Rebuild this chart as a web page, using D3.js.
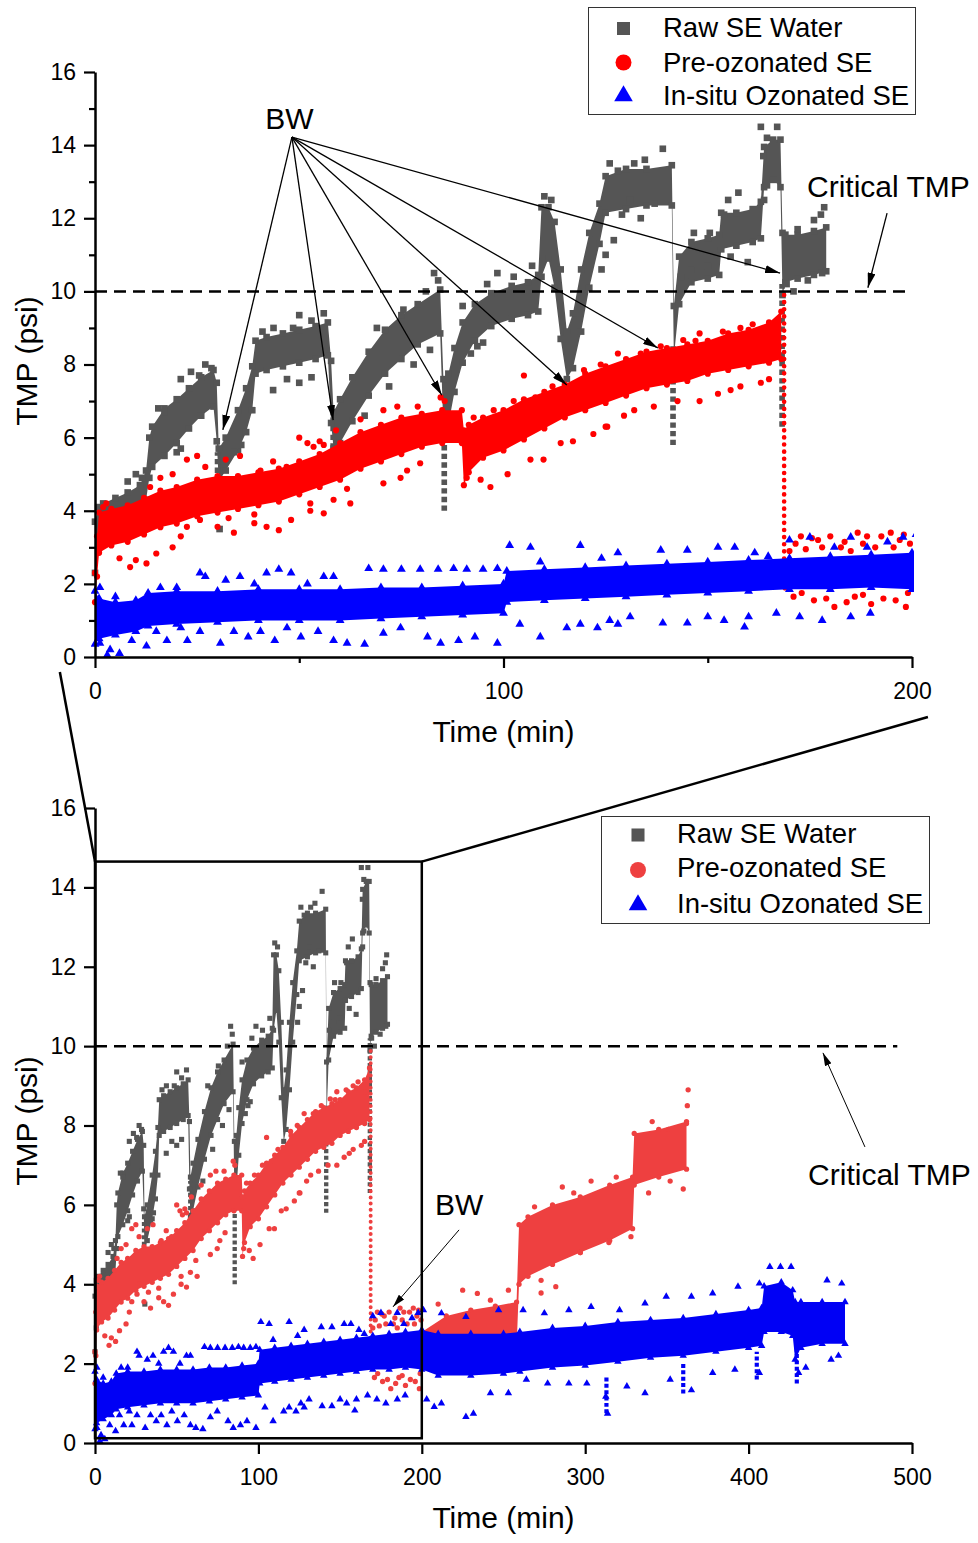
<!DOCTYPE html>
<html>
<head>
<meta charset="utf-8">
<script src="https://cdn.jsdelivr.net/npm/d3@7"></script>
<style>
  body { margin: 0; background: #fff; }
  svg text { font-family: "Liberation Sans", Arial, sans-serif; fill: #000; }
</style>
</head>
<body>
<div id="chart"></div>
<script>
// ---- data: TMP (psi) vs time (min) ----
// dense cloud of each run as [time, low, high] of its core band
const rawBand = [
  [0,2.3,3.7],[0.8,2.9,4.1],[2,3.4,4.2],[5,3.6,4.35],[8,3.7,4.5],[11,3.9,4.7],[12.5,4.3,5.1],
  [13.3,4.9,6.0],[14,5.2,6.3],[17,5.5,6.8],[20,5.85,7.05],[23,6.25,7.35],[26,6.6,7.65],[29,6.85,7.85],
  [29.8,5.9,7.5],[30.3,4.8,5.7],[32,5.1,6.0],[35,5.65,6.75],[37,6.15,7.35],[38.5,6.75,7.95],[39.3,7.75,8.65],
  [42,7.85,8.75],[46,7.95,8.85],[50,8.05,8.95],[54,8.15,9.05],[57,8.25,9.15],[57.8,6.4,8.1],[58.4,5.7,6.7],
  [60,5.85,7.05],[63,6.45,7.65],[67,7.15,8.35],[71,7.75,8.95],[75,8.15,9.35],[79,8.55,9.65],[84.5,8.85,10.05],
  [85.3,6.2,7.6],[86.5,6.35,7.75],[88,7.25,8.45],[90,8.05,9.15],[93,8.65,9.65],[97,9.05,9.95],[102,9.25,10.15],
  [106,9.35,10.25],[108.5,9.45,10.45],[109.3,10.4,12.3],[111,10.9,12.3],[112.5,10.1,11.9],[114,8.7,10.6],
  [115.5,7.6,8.9],[117,7.9,9.4],[119,8.9,10.6],[121,10.1,11.6],[123.5,11.3,12.4],[125,12.15,13.15],
  [130,12.25,13.35],[135,12.35,13.35],[141.2,12.35,13.45],[141.7,8.2,9.6],[143,9.65,10.95],[146,10.25,11.35],
  [150,10.35,11.45],[152.8,10.45,11.55],[153.3,11.15,12.15],[157,11.25,12.15],[161,11.35,12.25],[163,11.45,12.45],
  [163.8,12.85,13.95],[166,13.05,14.15],[167.8,12.85,14.15],[168.3,9.9,11.6],[169,10.25,11.55],[172,10.35,11.55],
  [176,10.45,11.65],[179,10.55,11.75]
];
const preBand = [
  [0,1.5,2.3],[0.5,2.2,3.3],[1,2.85,3.95],[4,3.05,4.05],[8,3.15,4.15],[12,3.35,4.35],[16,3.55,4.55],[20,3.65,4.65],
  [25,3.85,4.85],[30,3.95,4.95],[35,4.05,4.95],[40,4.15,5.05],[45,4.25,5.15],[50,4.45,5.35],[55,4.65,5.55],[60,4.85,5.85],
  [65,5.15,6.15],[70,5.35,6.35],[75,5.55,6.55],[80,5.75,6.65],[85,5.85,6.75],[89.8,5.85,6.75],[90.3,4.7,6.2],
  [91.5,5.05,6.35],[95,5.45,6.55],[100,5.65,6.75],[105,5.95,7.05],[110,6.25,7.25],[115,6.55,7.45],[120,6.75,7.75],
  [125,6.95,7.95],[130,7.15,8.15],[135,7.35,8.35],[140,7.45,8.45],[145,7.55,8.55],[150,7.75,8.65],[155,7.85,8.85],
  [160,7.95,8.95],[165,8.05,9.15],[168,8.15,9.45],[168.5,null,null],
  [169,1.9,2.6],[180,1.9,2.65],[190,2.0,2.7],[200,2.0,2.8],[215,2.2,3.2],[230,2.3,3.35],[245,2.3,3.45],
  [258,2.4,3.55],[259.5,4.0,5.5],[265,4.2,5.7],[280,4.5,6.0],[297,4.8,6.2],[315,5.1,6.5],[329,5.4,6.7],
  [330,6.5,7.8],[345,6.7,7.9],[362,6.9,8.1]
];
const insituBand = [
  [0,0.35,1.8],[1,0.5,1.6],[5,0.6,1.5],[10,0.7,1.55],[13,0.85,1.75],[20,0.9,1.8],[30,0.95,1.8],
  [40,1.0,1.85],[50,1.0,1.85],[60,1.0,1.85],[70,1.05,1.9],[80,1.1,1.9],[90,1.15,1.95],[100,1.2,2.0],
  [100.8,1.5,2.35],[110,1.55,2.4],[120,1.6,2.45],[130,1.65,2.5],[140,1.7,2.55],[150,1.75,2.6],
  [160,1.8,2.65],[170,1.85,2.7],[180,1.85,2.75],[190,1.9,2.8],[200,1.85,2.85],[210,1.7,2.75],
  [230,1.7,2.75],[250,1.75,2.75],[260,1.8,2.8],[280,1.9,2.9],[300,1.95,2.95],[320,2.05,3.05],
  [340,2.15,3.1],[360,2.2,3.15],[380,2.3,3.25],[400,2.4,3.35],[408,2.45,3.4],[409.5,2.8,3.95],
  [420,2.8,4.05],[427,2.7,3.85],[428.5,2.1,3.55],[432,2.4,3.55],[445,2.5,3.55],[459,2.5,3.55]
];

// sudden drops (backwash) seen as strings of markers: [time, low, high]
const rawDrops = [[30.0,4.8,5.6],[58.3,5.7,6.6],[85.5,4.0,6.5],[141.5,5.8,8.5],[168.2,6.3,10.2]];
const preDrops = [[168.7,2.5,10.0]];
const insituDrops = [[313,0.75,1.7],[360,1.25,2.0],[405,1.6,2.3],[429.5,1.5,2.6]];

// scattered points outside the core bands: [time, TMP]
const rawOut = [
  [8,4.8],[10,5.0],[11.5,4.9],[15.5,6.8],[17,6.7],[21,7.6],[23.5,7.8],[25.5,7.7],[27,8.0],[28.5,7.9],
  [20,5.6],[21,5.7],[30.5,3.5],[34,5.6],[35.8,5.8],[41,8.9],[43.7,9.0],[48.5,9.0],[50,9.35],[53,9.2],
  [56,9.4],[47,7.6],[50,7.5],[53,7.65],[43.6,7.3],[69,9.0],[75.5,9.5],[66,6.6],[72,7.4],[78,8.0],
  [82,8.4],[81,10.0],[83,10.5],[84,10.3],[90,9.6],[96,10.2],[98.5,10.5],[102.5,10.4],[107,10.7],
  [92,8.3],[95,8.6],[93.6,8.5],[110,12.6],[111.7,12.5],[125,11.0],[127,11.4],[124,10.6],[126,13.5],
  [128,13.3],[132,13.5],[134.6,13.6],[139,13.9],[131,12.5],[133.6,12.0],[129,12.1],[137,12.4],
  [146,10.6],[150,10.7],[143.4,10.4],[146.6,11.6],[150.5,11.6],[155,12.5],[157.5,12.7],[154,12.1],
  [155.6,10.95],[159.8,10.8],[163,14.5],[167,14.5],[164.5,14.2],[163.6,13.7],[163.8,12.5],[164.5,12.9],
  [176,11.95],[177.7,12.1],[178.5,12.3],[172,11.7],[174.5,10.3],[171,10.0],[178,10.5],[169.3,10.2]
];
const preOut = [
  [6,2.7],[8.6,2.46],[10,2.65],[12.6,2.56],[15,2.83],[19,3.0],[21,3.3],[22.5,3.56],[25.7,3.75],[30,3.56],
  [34,3.4],[39,3.66],[42,3.56],[45,3.47],[48,3.75],[52.7,4.0],[56,3.93],[39,3.9],[32.7,3.8],[27.2,4.0],
  [2,4.1],[2.8,4.2],[13.5,4.65],[16,4.9],[19,5.0],[22.5,5.4],[25,5.5],[27,5.2],[32,5.4],[35.5,5.5],
  [40.5,5.1],[43.6,5.35],[46.9,5.2],[50,6.0],[53.5,5.75],[56,5.8],[65,6.5],[70.6,6.75],[74,6.85],
  [79,6.85],[84.6,7.1],[85.6,7.0],[52,5.85],[55,5.9],[59,6.2],[52.7,4.2],[58.4,4.3],[62.5,4.2],
  [61.7,4.6],[70.6,4.75],[76.4,5.1],[79.6,5.3],[74.8,4.9],[91,4.9],[94.4,4.85],[96.8,4.65],[101,5.0],
  [106.6,5.4],[109.8,5.4],[114,5.85],[117,5.9],[122,6.1],[125,6.3],[92.7,6.55],[97.6,6.75],[102.5,7.0],
  [105,7.7],[107.8,7.1],[112,7.4],[119.7,7.85],[123.8,8.0],[128,8.3],[133.6,8.3],[138.5,8.5],[144,8.67],
  [148,8.85],[153.7,8.9],[158,9.0],[161,9.1],[165,8.85],[147,8.65],[125.4,6.3],[129.5,6.6],[132,6.75],
  [136.8,6.85],[142.6,7.0],[148,7.0],[152.5,7.2],[158,7.4],[163,7.5],[165,7.6],[155.6,7.3],
  [170,2.9],[171.5,3.1],[172.8,3.3],[174,2.95],[175.5,3.25],[177,3.2],[178,3.0],[180,3.3],[182.6,3.0],
  [183.5,3.15],[185,2.9],[186.7,3.4],[188,3.1],[189,3.3],[191,3.0],[192.5,3.3],[194.8,3.4],[195.5,3.0],
  [197,3.2],[198,3.35],[199.5,3.1],[171,1.65],[173,1.75],[176,1.55],[179,1.6],[181,1.37],[184,1.5],
  [186,1.65],[188,1.7],[190,1.45],[193,1.6],[196,1.55],[198.5,1.37],[199,1.75],
  [210,3.5],[225,3.85],[234,3.77],[242,3.6],[253,3.85],[269,5.95],[286,6.45],[293,6.3],[303.6,6.6],
  [319,6.7],[273,3.78],[282,3.94],[273,4.1],[297,4.8],[314.5,5.05],[328,5.2],[341,8.1],[351,7.9],
  [362,8.05],[363,8.9],[362.5,8.5],[338.8,6.3],[352,6.6],[360,6.4]
];
const insituOut = [
  [1.2,1.9],[5,1.65],[16,1.9],[20,1.9],[25.7,2.3],[27,2.2],[32,2.1],[35.5,2.2],[39,2.0],[42,2.3],[45,2.4],
  [48,2.3],[52,2.0],[56,2.2],[1.2,0.38],[3.7,0.2],[6,0.1],[3,0.05],[9,0.45],[12.6,0.3],[15,0.7],[17.6,0.45],
  [21,0.8],[22.6,0.45],[25.7,0.7],[30.7,0.38],[34,0.7],[37.5,0.55],[40.5,0.7],[44,0.45],[47,0.8],[50.4,0.55],
  [54.6,0.7],[58.4,2.2],[67,2.42],[70.6,2.4],[75,2.4],[79.6,2.4],[84,2.4],[87.8,2.42],[91,2.4],[95,2.4],
  [98.5,2.42],[101.5,3.05],[106.6,3.0],[109,2.6],[118.8,3.05],[124,2.7],[128,2.85],[58.4,0.45],[61.7,0.38],
  [66,0.35],[70.6,0.65],[74.8,0.8],[81.4,0.55],[84.6,0.38],[89,0.45],[93,0.55],[98.5,0.38],[109,0.55],
  [104,0.9],[115.5,0.8],[118.8,0.9],[123,0.8],[128,0.9],[138.5,2.92],[145,2.92],[152.5,3.0],[156.6,3.0],
  [161.5,2.85],[164.8,2.75],[170,3.2],[175,3.28],[181,3.0],[185,3.28],[189,3.0],[194,3.15],[197.8,3.28],
  [126,1.0],[131,1.1],[139,0.93],[145,0.93],[150,1.1],[154,1.0],[159,0.82],[160,1.1],[166.8,1.2],
  [172.5,1.1],[178,1.0],[185,1.1],[189.8,1.2],[201,3.35],[212,3.27],[227,3.18],[247,3.35],[262,3.35],
  [275,3.27],[290,3.35],[303.6,3.43],[321,3.35],[336.6,3.52],[349.6,3.69],[365,3.69],[378,3.77],
  [393.5,3.94],[406.6,4.02],[413,4.44],[419.5,4.44],[426,4.44],[448,4.1],[457,4.02],[203,1.1],[207.6,0.91],
  [212,1.0],[227,0.66],[231.6,0.74],[242,1.26],[253,1.26],[264,1.6],[277,1.5],[290,1.5],[301,1.5],
  [312.6,1.17],[313.7,0.74],[325.5,1.43],[336.6,1.26],[352,1.6],[365,1.33],[378,1.77],[391.6,1.85],
  [406.6,1.77],[430.6,1.77],[435,1.9],[450.5,2.1],[455,2.2]
];

const seriesNames = ["Raw SE Water", "Pre-ozonated SE", "In-situ Ozonated SE"];
const criticalTMP = 10;
const yTicks = [0, 2, 4, 6, 8, 10, 12, 14, 16];
const yMinorTop = [1, 3, 5, 7, 9, 11, 13, 15];
const xTicksTop = [0, 100, 200];
const xMinorTop = [50, 150];
const xTicksBottom = [0, 100, 200, 300, 400, 500];
const zoomBox = [0, 200, 0.12, 14.65];   // t0, t1, v0, v1 of the inset frame

const FONT = '"Liberation Sans", Arial, sans-serif';

const svg = d3.select("#chart").append("svg")
    .attr("width", 978).attr("height", 1543);
const defs = svg.append("defs");

function addArrow(id, len, wid) {
    defs.append("marker")
        .attr("id", id)
        .attr("markerUnits", "userSpaceOnUse")
        .attr("viewBox", `0 0 ${len} ${wid}`)
        .attr("refX", len).attr("refY", wid / 2)
        .attr("markerWidth", len).attr("markerHeight", wid)
        .attr("orient", "auto")
        .append("path")
        .attr("d", `M0,0L${len},${wid / 2}L0,${wid}Z`)
        .attr("fill", "#000");
}
addArrow("arrowBig", 15, 8);
addArrow("arrowSmall", 13, 7);

const panels = [
    {
        name: "top", tMax: 200, xTicks: xTicksTop, xMinor: xMinorTop, yMinor: yMinorTop,
        left: 95, right: 912, bottom: 657, top: 72, dashEnd: 200,
        colors: ["#555555", "#ff0000", "#0000ff"], sizes: [44, 30, 34],
        legend: { x: 588, y: 7, w: 327, h: 107, symX: 623.5, textX: 663, rows: [28.5, 62.5, 96], base: [37, 72, 105] },
        titleY: 742, labelY: 361
    },
    {
        name: "bottom", tMax: 500, xTicks: xTicksBottom, xMinor: [], yMinor: [],
        left: 95, right: 912, bottom: 1443, top: 808, dashEnd: 491,
        colors: ["#555555", "#ee4040", "#0000f5"], sizes: [26, 22, 24],
        legend: { x: 601, y: 816, w: 328, h: 107, symX: 638, textX: 677, rows: [835, 870, 905], base: [843, 877, 913] },
        titleY: 1528, labelY: 1121
    }
];

const symbols = [d3.symbolSquare, d3.symbolCircle, d3.symbolTriangle];
const bands = [rawBand, preBand, insituBand];
const drops = [rawDrops, preDrops, insituDrops];
const outs = [rawOut, preOut, insituOut];

function drawPanel(p) {
    const x = d3.scaleLinear().domain([0, p.tMax]).range([p.left, p.right]);
    const y = d3.scaleLinear().domain([0, 16]).range([p.bottom, p.top]);
    p.x = x; p.y = y;

    const clipId = "clip-" + p.name;
    defs.append("clipPath").attr("id", clipId).append("rect")
        .attr("x", p.left - 4).attr("y", p.top - 12)
        .attr("width", p.right - p.left + 6).attr("height", p.bottom - p.top + 12);
    const plot = svg.append("g").attr("clip-path", `url(#${clipId})`);

    bands.forEach((band, i) => {
        const col = p.colors[i];
        const side = Math.sqrt(p.sizes[i]);
        const area = d3.area()
            .defined(d => d[1] != null)
            .x(d => x(d[0]))
            .y0(d => y(d[1]))
            .y1(d => y(d[2]));
        plot.append("path").attr("d", area(band)).attr("fill", col);

        plot.selectAll(null).data(drops[i]).join("line")
            .attr("x1", d => x(d[0])).attr("x2", d => x(d[0]))
            .attr("y1", d => y(d[1])).attr("y2", d => y(d[2]))
            .attr("stroke", col)
            .attr("stroke-width", side * 0.85)
            .attr("stroke-dasharray", i === 1 ? `0,${side * 1.3}` : `${side * 0.8},${side * 0.5}`)
            .attr("stroke-linecap", i === 1 ? "round" : "butt");

        const pts = band.filter(d => d[1] != null)
            .flatMap(d => [[d[0], d[1]], [d[0], d[2]]])
            .concat(outs[i]);
        const sym = d3.symbol().type(symbols[i]).size(p.sizes[i]);
        plot.selectAll(null).data(pts).join("path")
            .attr("transform", d => `translate(${x(d[0])},${y(d[1])})`)
            .attr("d", sym)
            .attr("fill", col);
    });

    // critical TMP line
    svg.append("line")
        .attr("x1", x(0)).attr("x2", x(p.dashEnd))
        .attr("y1", y(criticalTMP)).attr("y2", y(criticalTMP))
        .attr("stroke", "#000").attr("stroke-width", 2.5)
        .attr("stroke-dasharray", "12,7");

    // axes
    const xAxis = svg.append("g")
        .attr("transform", `translate(0,${p.bottom})`)
        .call(d3.axisBottom(x).tickValues(p.xTicks).tickSize(11).tickSizeOuter(0).tickPadding(14));
    const yAxis = svg.append("g")
        .attr("transform", `translate(${p.left},0)`)
        .call(d3.axisLeft(y).tickValues(yTicks).tickSize(11).tickSizeOuter(0).tickPadding(8));
    [xAxis, yAxis].forEach(g => {
        g.attr("font-size", 23).attr("font-family", FONT);
        g.select(".domain").attr("stroke-width", 2.5);
        g.selectAll(".tick line").attr("stroke-width", 2.2);
        g.selectAll(".tick text").attr("fill", "#000");
    });
    xAxis.selectAll(".tick text").attr("dy", "0.72em");
    if (p.xMinor.length) {
        svg.append("g").attr("transform", `translate(0,${p.bottom})`)
            .call(d3.axisBottom(x).tickValues(p.xMinor).tickSize(6).tickSizeOuter(0).tickFormat(""))
            .call(g => g.select(".domain").remove())
            .selectAll(".tick line").attr("stroke-width", 2.2);
    }
    if (p.yMinor.length) {
        svg.append("g").attr("transform", `translate(${p.left},0)`)
            .call(d3.axisLeft(y).tickValues(p.yMinor).tickSize(6).tickSizeOuter(0).tickFormat(""))
            .call(g => g.select(".domain").remove())
            .selectAll(".tick line").attr("stroke-width", 2.2);
    }

    svg.append("text")
        .attr("x", (p.left + p.right) / 2).attr("y", p.titleY)
        .attr("text-anchor", "middle").attr("font-size", 30)
        .text("Time (min)");
    svg.append("text")
        .attr("transform", `translate(37,${p.labelY}) rotate(-90)`)
        .attr("text-anchor", "middle").attr("font-size", 30)
        .text("TMP (psi)");

    // legend
    const L = p.legend;
    svg.append("rect")
        .attr("x", L.x + 0.5).attr("y", L.y + 0.5).attr("width", L.w).attr("height", L.h)
        .attr("fill", "#fff").attr("stroke", "#333").attr("stroke-width", 1);
    const legendSizes = [170, 200, 150];
    seriesNames.forEach((name, i) => {
        svg.append("path")
            .attr("transform", `translate(${L.symX},${L.rows[i]})`)
            .attr("d", d3.symbol().type(symbols[i]).size(legendSizes[i]))
            .attr("fill", p.colors[i]);
        svg.append("text")
            .attr("x", L.textX).attr("y", L.base[i])
            .attr("font-size", 27.5)
            .text(name);
    });
}

panels.forEach(drawPanel);
const T = panels[0], B = panels[1];

// ---- annotations ----
function arrow(p, from, to, marker, width) {
    svg.append("line")
        .attr("x1", p.x(from[0])).attr("y1", p.y(from[1]))
        .attr("x2", p.x(to[0])).attr("y2", p.y(to[1]))
        .attr("stroke", "#000").attr("stroke-width", width)
        .attr("marker-end", `url(#${marker})`);
}
function label(p, at, txt, anchor) {
    svg.append("text")
        .attr("x", p.x(at[0])).attr("y", p.y(at[1]))
        .attr("text-anchor", anchor).attr("font-size", 30)
        .text(txt);
}

// top: backwash points and critical TMP
const bwOrigin = [48.2, 14.22];
const bwTargets = [[31.3, 6.21], [58.3, 6.48], [84.9, 7.16], [115.5, 7.44], [137.8, 8.45], [167.7, 10.5]];
label(T, [47.6, 14.45], "BW", "middle");
bwTargets.forEach(t => arrow(T, bwOrigin, t, "arrowBig", 1.3));
label(T, [174.3, 12.58], "Critical TMP", "start");
arrow(T, [193.9, 12.14], [189.2, 10.1], "arrowBig", 1.3);

// bottom
label(B, [222.8, 5.74], "BW", "middle");
arrow(B, [222.8, 5.37], [182.4, 3.43], "arrowSmall", 1);
label(B, [436.4, 6.5], "Critical TMP", "start");
arrow(B, [471.2, 7.46], [445.5, 9.83], "arrowSmall", 1);

// inset frame in the lower chart, and the lines tying it to the upper chart
svg.append("rect")
    .attr("x", B.x(zoomBox[0])).attr("y", B.y(zoomBox[3]))
    .attr("width", B.x(zoomBox[1]) - B.x(zoomBox[0]))
    .attr("height", B.y(zoomBox[2]) - B.y(zoomBox[3]))
    .attr("fill", "none").attr("stroke", "#000").attr("stroke-width", 2.5);
svg.append("line")
    .attr("x1", T.x(-8.6)).attr("y1", T.y(-0.41))
    .attr("x2", B.x(zoomBox[0])).attr("y2", B.y(zoomBox[3]))
    .attr("stroke", "#000").attr("stroke-width", 2.5);
svg.append("line")
    .attr("x1", T.x(203.9)).attr("y1", T.y(-1.64))
    .attr("x2", B.x(zoomBox[1])).attr("y2", B.y(zoomBox[3]))
    .attr("stroke", "#000").attr("stroke-width", 2.5);
</script>
</body>
</html>
